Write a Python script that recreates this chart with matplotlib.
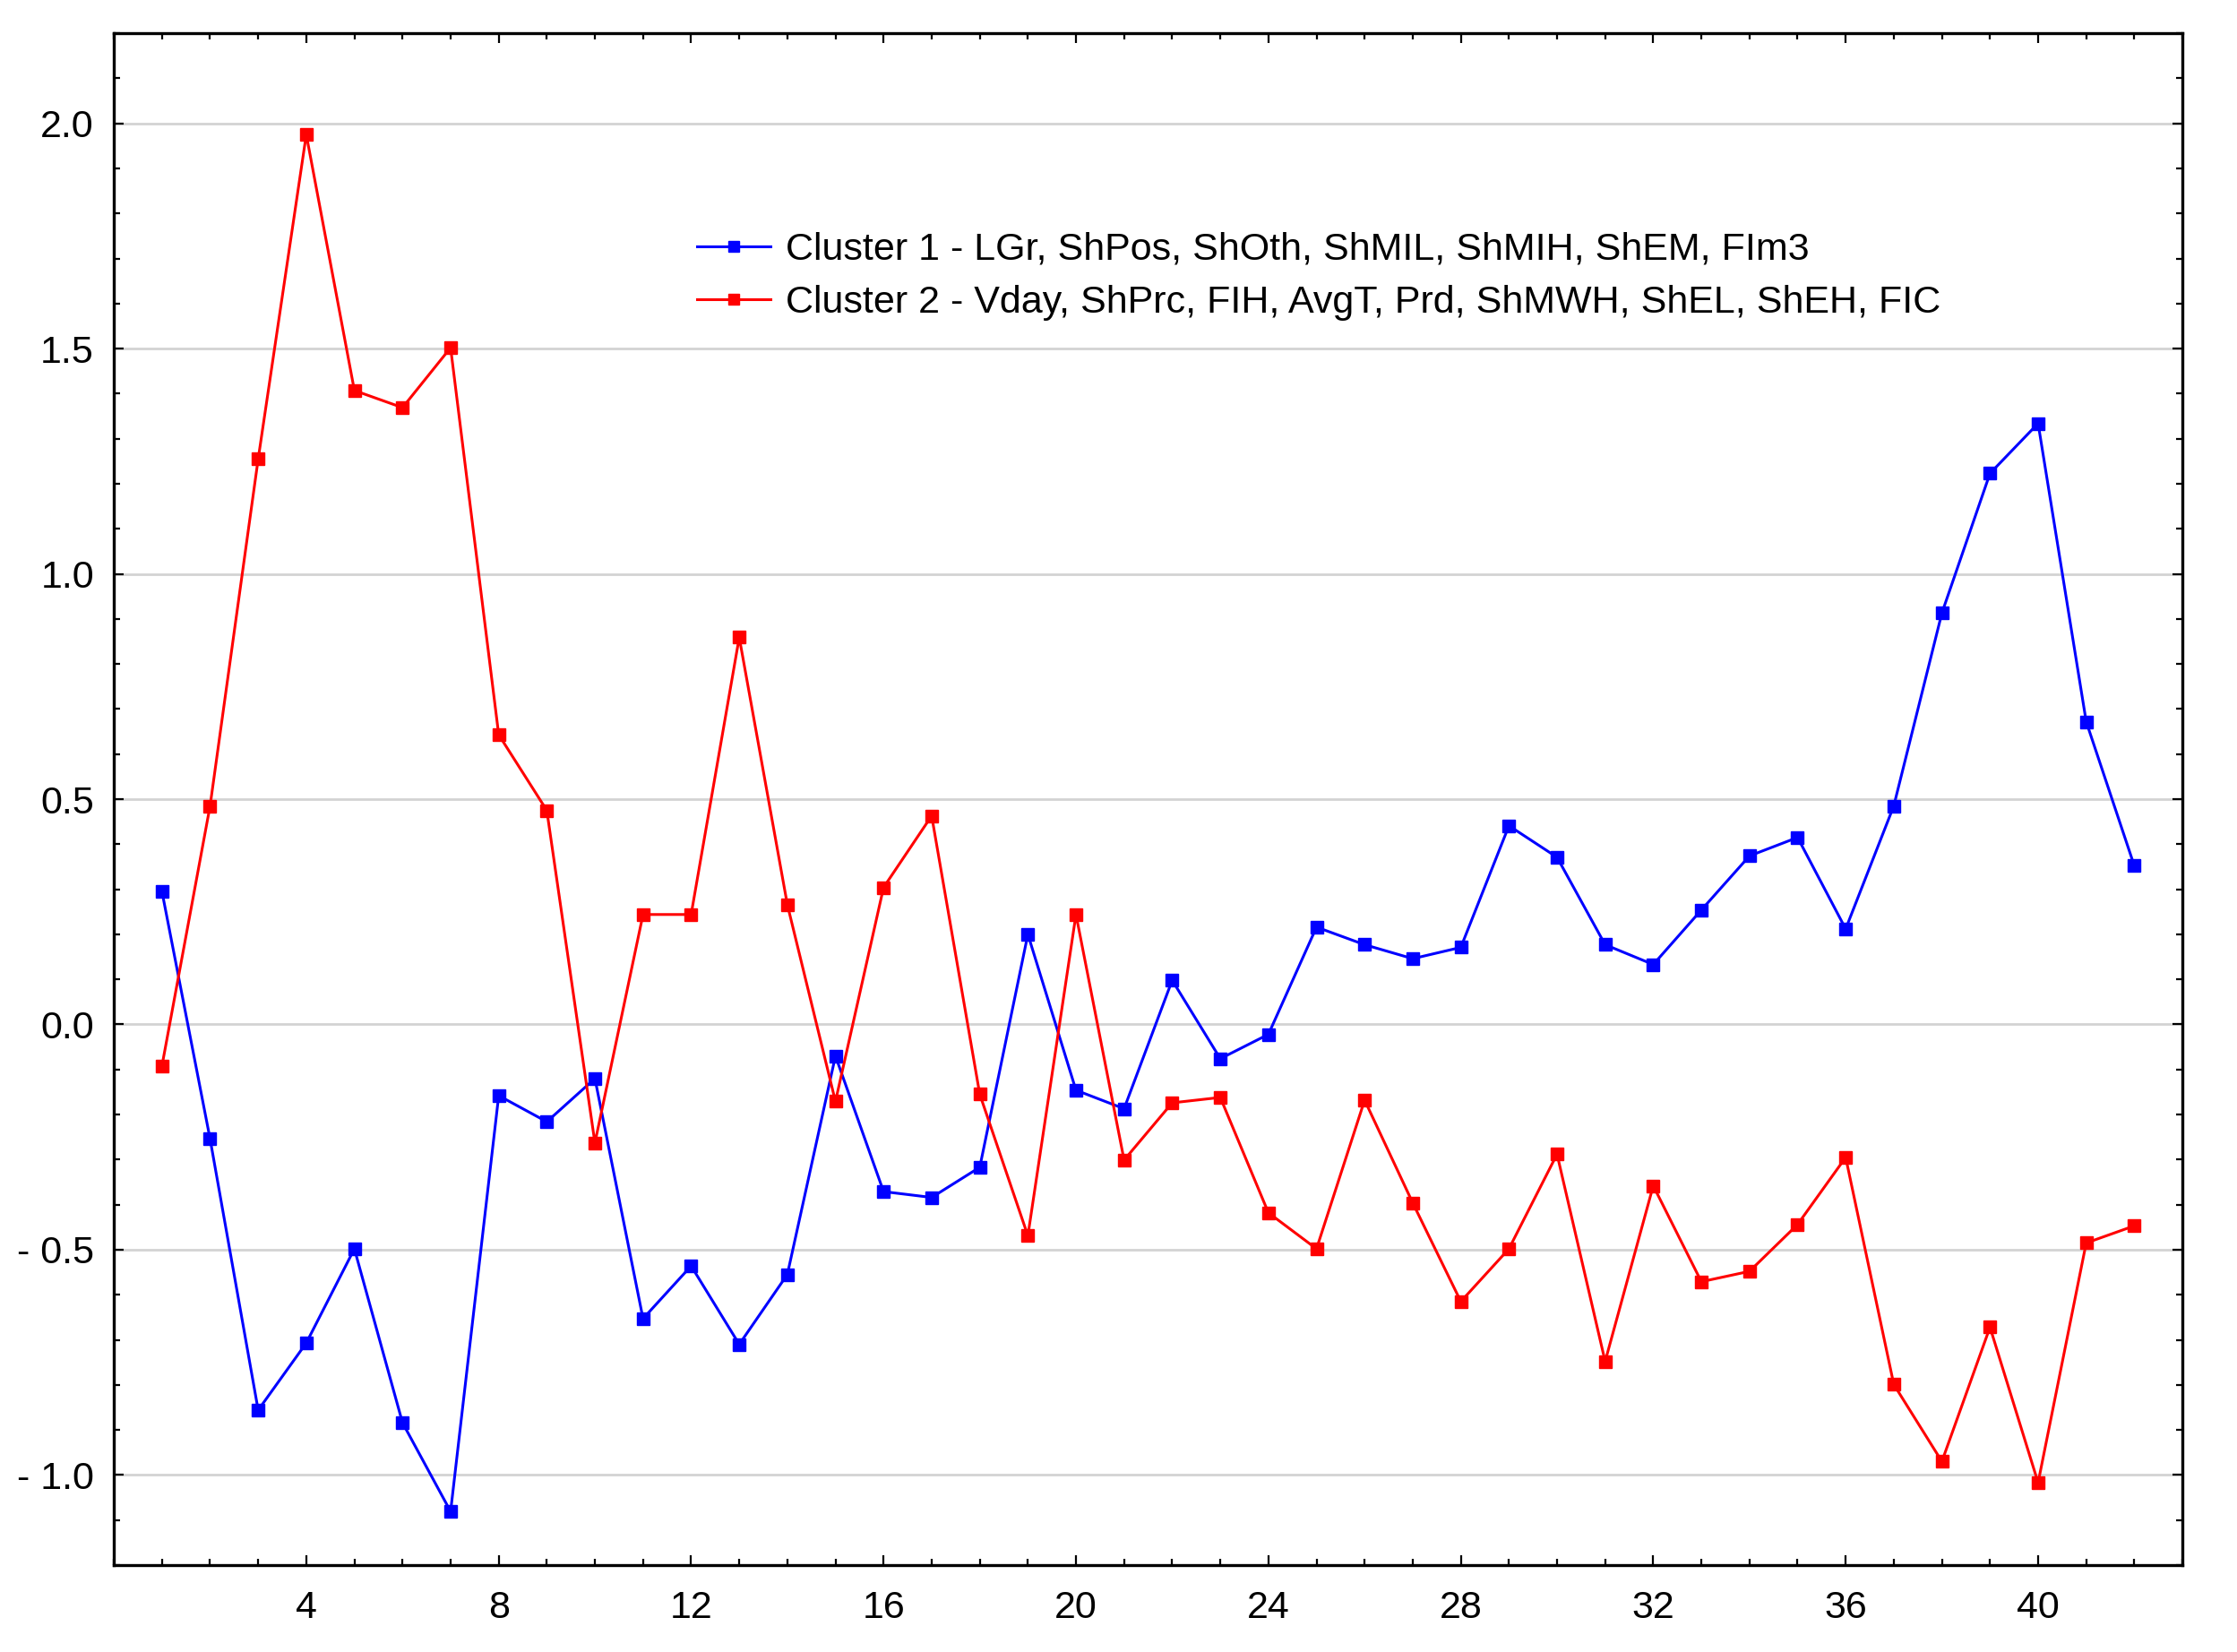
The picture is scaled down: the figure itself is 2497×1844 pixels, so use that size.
import matplotlib
matplotlib.use("Agg")
import matplotlib.pyplot as plt
from matplotlib.ticker import MultipleLocator, FixedLocator, FuncFormatter

plt.rcParams['font.family'] = ['Liberation Sans', 'DejaVu Sans']

x = list(range(1, 43))
cluster1 = [0.295, -0.254, -0.856, -0.707, -0.498, -0.884, -1.081, -0.158, -0.216, -0.120,
            -0.653, -0.536, -0.710, -0.555, -0.070, -0.371, -0.384, -0.317, 0.200, -0.146,
            -0.187, 0.098, -0.076, -0.022, 0.216, 0.177, 0.146, 0.171, 0.441, 0.371,
            0.177, 0.133, 0.254, 0.374, 0.415, 0.212, 0.485, 0.913, 1.223, 1.334,
            0.672, 0.352]
cluster2 = [-0.092, 0.485, 1.255, 1.975, 1.407, 1.369, 1.502, 0.643, 0.475, -0.263,
            0.244, 0.244, 0.859, 0.266, -0.171, 0.304, 0.463, -0.155, -0.469, 0.244,
            -0.301, -0.174, -0.162, -0.418, -0.498, -0.168, -0.396, -0.615, -0.498, -0.288,
            -0.748, -0.358, -0.571, -0.548, -0.444, -0.295, -0.799, -0.970, -0.672, -1.017,
            -0.485, -0.447]
xticks = [4, 8, 12, 16, 20, 24, 28, 32, 36, 40]
label1 = "Cluster 1 - LGr, ShPos, ShOth, ShMIL, ShMIH, ShEM, FIm3"
label2 = "Cluster 2 - Vday, ShPrc, FIH, AvgT, Prd, ShMWH, ShEL, ShEH, FIC"

fig = plt.figure(figsize=(24.97, 18.44), dpi=100)
ax = fig.add_axes([0.0509, 0.0526, 0.9247, 0.9273])

ax.plot(x, cluster1, color="#0000ff", lw=2.2, marker="s", ms=10, label=label1)
ax.plot(x, cluster2, color="#ff0000", lw=2.2, marker="s", ms=10, label=label2)

ax.set_xlim(0, 43)
ax.set_ylim(-1.2, 2.2)
ax.xaxis.set_major_locator(FixedLocator(xticks))
ax.xaxis.set_minor_locator(MultipleLocator(1))
ax.yaxis.set_major_locator(MultipleLocator(0.5))
ax.yaxis.set_minor_locator(MultipleLocator(0.1))

def yfmt(v, pos):
    if v < -1e-9:
        return "- %.1f" % abs(v)
    return "%.1f" % abs(v)

ax.yaxis.set_major_formatter(FuncFormatter(yfmt))
ax.grid(axis="y", which="major", color="#d3d3d3", lw=2)
ax.set_axisbelow(True)

ax.tick_params(which="both", direction="in", top=True, right=True, width=1.6,
               labelsize=31)
ax.tick_params(which="major", length=8)
ax.tick_params(which="minor", length=5)
ax.tick_params(axis="y", pad=16)
ax.tick_params(axis="x", pad=20)
for s in ax.spines.values():
    s.set_linewidth(2.4)

ax.legend(loc="upper left", bbox_to_anchor=(0.265, 0.893), frameon=False, fontsize=31,
          handlelength=1.9, handletextpad=0.4, labelspacing=0.45, markerscale=0.9)

fig.savefig("out.png", dpi=100)
